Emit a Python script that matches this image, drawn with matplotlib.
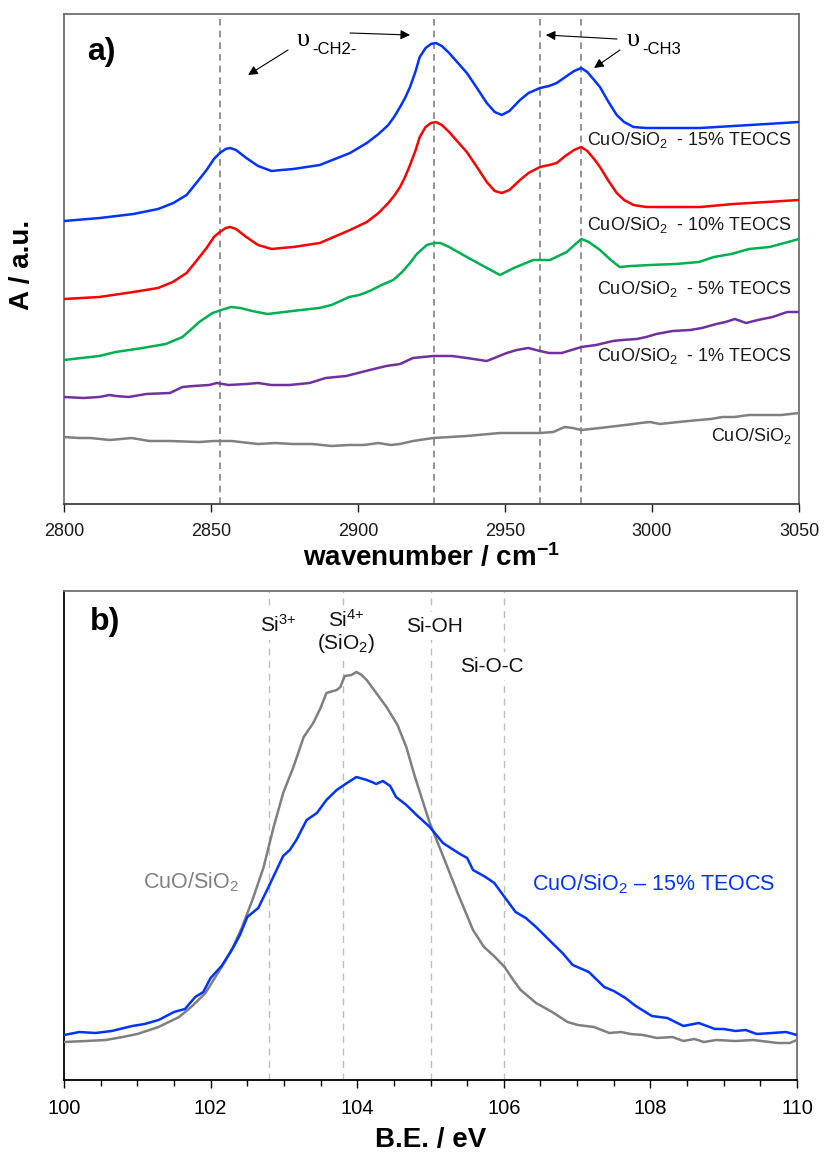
import matplotlib
matplotlib.use("Agg")
import matplotlib.pyplot as plt
from matplotlib.ticker import MultipleLocator

plt.rcParams['font.family'] = ['Liberation Sans', 'DejaVu Sans']
plt.rcParams['mathtext.fontset'] = 'custom'
plt.rcParams['mathtext.rm'] = 'Liberation Sans'
plt.rcParams['mathtext.it'] = 'Liberation Sans:italic'
plt.rcParams['mathtext.bf'] = 'Liberation Sans:bold'

# ---------------- Panel a: DRIFT spectra (A / a.u., stacked) ----------------
wn_15 = [2800, 2812.2, 2823.6, 2832, 2837.2, 2841.7, 2845, 2848.5, 2851, 2853, 2855, 2856.5,
         2858.5, 2862, 2866, 2870.6, 2874, 2878, 2887, 2897.3, 2903, 2907, 2910.3, 2912.5,
         2914.3, 2916, 2917.7, 2919.5, 2921, 2923, 2924.8, 2926.5, 2928.5, 2931, 2934, 2937,
         2940, 2943.8, 2946.5, 2948.9, 2951.5, 2955.1, 2958, 2961.9, 2965, 2967.6, 2970.5,
         2973.5, 2975.9, 2978, 2980.3, 2982.3, 2985, 2988, 2990.5, 2993.7, 2998, 3005, 3016.4,
         3027.7, 3039, 3050]
a_15 = [283, 286, 290, 295, 301, 309, 321, 334, 345, 351, 355, 356,
        354, 346, 338, 333, 334, 335, 339, 351, 361, 370, 379, 388,
        397, 406, 417, 432, 447, 456, 460, 461, 458, 451, 441, 431,
        418, 401, 392, 389, 393, 404, 411, 416, 418, 421, 427,
        433, 436, 432, 424, 417, 403, 389, 382, 377, 376, 376, 376,
        378, 380, 382]

wn_10 = [2800, 2812, 2823.6, 2832, 2837, 2841.7, 2845, 2848.5, 2851, 2853, 2855, 2856.5,
         2858.5, 2862, 2866, 2870.6, 2874, 2878, 2887, 2897.3, 2903, 2907, 2910.3, 2912.5,
         2914.3, 2916, 2917.7, 2919.5, 2921, 2923, 2924.8, 2926.5, 2928.5, 2931, 2934, 2937,
         2940, 2943.8, 2946.5, 2948.9, 2951.5, 2955.1, 2958, 2961.9, 2965, 2967.6, 2970.5,
         2973.5, 2975.9, 2978, 2980.3, 2982.3, 2985, 2988, 2990.5, 2993.7, 2998, 3005, 3016.4,
         3027.7, 3039, 3050]
a_10 = [205, 207, 212, 216, 222, 231, 243, 256, 267, 272, 276, 277,
        275, 267, 259, 255, 256, 257, 261, 274, 282, 291, 301, 309,
        317, 327, 339, 353, 367, 377, 381, 382, 379, 372, 362, 352,
        339, 322, 313, 311, 314, 324, 331, 337, 339, 341, 348,
        354, 357, 353, 345, 337, 324, 311, 304, 299, 297, 297, 297,
        300, 302, 304]

wn_5 = [2800, 2812, 2817.6, 2826.7, 2834.6, 2840.3, 2843, 2846, 2850.5, 2853.5, 2856.8, 2860,
        2864, 2869.2, 2877.7, 2886.8, 2891, 2897, 2900.4, 2904, 2908, 2912, 2915, 2917.7,
        2920, 2923.4, 2926, 2928, 2931, 2937, 2942, 2948.3, 2953, 2959.6, 2965.3, 2971, 2974,
        2976, 2978.5, 2982.3, 2986, 2989, 2993, 2999.3, 3008, 3016, 3021, 3027, 3033, 3040, 3050]
a_5 = [144, 148, 152, 156, 160, 167, 174, 182, 191, 194, 197, 196,
       193, 190, 193, 196, 199, 207, 209, 213, 219, 224, 232, 241,
       250, 259, 261, 261, 257, 247, 239, 229, 236, 244, 244, 252, 260,
       265, 262, 254, 244, 237, 238, 239, 240, 242, 247, 250, 255, 257, 265]

wn_1 = [2800, 2806.6, 2812, 2815.5, 2817.6, 2822, 2828, 2836, 2840.3, 2844, 2849.4, 2852, 2856,
        2862, 2866, 2870.5, 2876.7, 2883.5, 2889, 2896, 2900, 2904, 2909.6, 2914.3, 2918.7, 2925.6,
        2932, 2937, 2943.8, 2950.6, 2954, 2957.9, 2961.9, 2965, 2969.3, 2976, 2981, 2986.7, 2990,
        2994.8, 2998, 3001.5, 3007, 3013, 3017, 3021.9, 3025, 3028.2, 3032, 3036, 3041, 3046, 3050]
a_1 = [107, 106, 107, 109, 108, 107, 110, 111, 117, 118, 119, 121, 119,
       120, 121, 119, 119, 121, 126, 128, 131, 134, 138, 140, 146, 148,
       148, 146, 143, 151, 154, 156, 153, 151, 151, 157, 159, 163, 164,
       165, 167, 170, 173, 174, 176, 180, 182, 185, 181, 184, 187, 192, 192]

wn_0 = [2800, 2805, 2809, 2815.6, 2823, 2829, 2836, 2846, 2851, 2857, 2866, 2872, 2877.7, 2884.5,
        2891, 2897, 2902, 2907, 2911, 2914.3, 2918.7, 2925.6, 2937, 2948.3, 2955, 2961.9, 2966.4,
        2970.3, 2973, 2976, 2982.3, 2988, 2993.7, 2996, 2999.3, 3002.7, 3009, 3016, 3020, 3024,
        3028, 3033, 3038, 3044, 3050]
a_0 = [67, 66, 66, 64, 66, 63, 63, 62, 63, 63, 60, 61, 60, 60,
       58, 59, 59, 61, 59, 60, 63, 66, 68, 71, 71, 71, 72,
       77, 76, 74, 76, 78, 80, 81, 82, 80, 82, 84, 85, 87,
       87, 89, 89, 89, 91]

series_a = [
    (wn_15, a_15, '#0033ff', 'CuO/SiO$_2$  - 15% TEOCS', 364),
    (wn_10, a_10, '#ff0000', 'CuO/SiO$_2$  - 10% TEOCS', 279),
    (wn_5, a_5, '#00b050', 'CuO/SiO$_2$  - 5% TEOCS', 215),
    (wn_1, a_1, '#7030a0', 'CuO/SiO$_2$  - 1% TEOCS', 148),
    (wn_0, a_0, '#808080', 'CuO/SiO$_2$', 68),
]
vlines_a = [2853, 2926, 2962, 2976]
xticks_a = [2800, 2850, 2900, 2950, 3000, 3050]

# ---------------- Panel b: XPS Si 2p ----------------
be_grey = [100.0, 100.3, 100.57, 100.8, 101.0, 101.29, 101.57, 101.75, 101.93, 102.15, 102.3,
           102.43, 102.58, 102.72, 102.86, 102.99, 103.13, 103.27, 103.40, 103.5, 103.58, 103.72,
           103.77, 103.83, 103.92, 103.99, 104.06, 104.13, 104.26, 104.40, 104.55, 104.67, 104.78,
           104.88, 104.99, 105.16, 105.37, 105.58, 105.73, 105.88, 106.01, 106.12, 106.23, 106.44,
           106.66, 106.87, 107.01, 107.23, 107.44, 107.6, 107.73, 107.9, 108.09, 108.3, 108.45,
           108.6, 108.73, 108.9, 109.16, 109.4, 109.74, 109.9, 110.0]
i_grey = [38, 39, 40, 43, 46, 53, 63, 74, 87, 113, 132,
          153, 182, 212, 253, 287, 313, 343, 357, 372, 387, 390,
          393, 404, 405, 408, 405, 400, 387, 373, 355, 333, 305,
          282, 257, 226, 187, 150, 133, 123, 113, 101, 90, 77,
          68, 58, 55, 53, 47, 48, 46, 45, 42, 43, 39,
          41, 38, 40, 39, 40, 37, 37, 40]

be_blue = [100.0, 100.21, 100.43, 100.65, 100.93, 101.1, 101.29, 101.5, 101.65, 101.79, 101.9,
           102.0, 102.15, 102.29, 102.4, 102.5, 102.65, 102.79, 102.99, 103.08, 103.17, 103.31,
           103.45, 103.58, 103.72, 103.86, 103.99, 104.13, 104.2, 104.26, 104.35, 104.45, 104.53,
           104.67, 104.81, 104.99, 105.17, 105.38, 105.5, 105.58, 105.75, 105.87, 106.01, 106.16,
           106.3, 106.44, 106.66, 106.8, 106.94, 107.16, 107.37, 107.5, 107.66, 107.8, 108.02,
           108.23, 108.45, 108.66, 108.88, 109.0, 109.16, 109.3, 109.45, 109.66, 109.85, 110.0]
i_blue = [45, 48, 47, 49, 54, 56, 60, 68, 71, 83, 88,
          102, 114, 130, 145, 163, 172, 193, 224, 230, 240, 260,
          267, 280, 290, 297, 303, 300, 298, 296, 299, 294, 283,
          275, 265, 253, 237, 227, 222, 210, 203, 197, 183, 168,
          162, 153, 137, 127, 115, 108, 93, 89, 82, 74, 64,
          62, 54, 57, 51, 51, 49, 50, 46, 47, 48, 45]

vlines_b = [102.8, 103.8, 105.0, 106.0]
peak_labels_b = [
    ('Si$^{3{+}}$', 102.93, 455),
    ('Si$^{4{+}}$\n(SiO$_2$)', 103.85, 448),
    ('Si-OH', 105.06, 454),
    ('Si-O-C', 105.84, 414),
]

fig = plt.figure(figsize=(8.25, 11.52), dpi=100)
W, H = 825, 1152

# ---- panel a ----
axa = fig.add_axes([64 / W, 1 - 504 / H, (799 - 64) / W, (504 - 14) / H])
for x in vlines_a:
    axa.axvline(x, color='#808080', lw=1.2, ls=(0, (4, 3)), zorder=1)
for wn, a, c, lab, ly in series_a:
    axa.plot(wn, a, color=c, lw=1.8, zorder=3)
    axa.text(3047.6, ly, lab, color='#1a1a1a', fontsize=13, ha='right', va='center', zorder=4)
axa.set_xlim(2800, 3050)
axa.set_ylim(0, 490)
axa.set_xticks(xticks_a)
axa.set_yticks([])
axa.tick_params(axis='x', direction='out', length=6, width=1, labelsize=13, pad=8, colors='#1a1a1a')
for s in ['top', 'right', 'left']:
    axa.spines[s].set_color('#707070')
axa.spines['bottom'].set_color('#404040')
for s in axa.spines.values():
    s.set_linewidth(1.3)
axa.set_xlabel('wavenumber / cm$^{\\mathbf{-1}}$', fontsize=20, fontweight='bold', labelpad=2)
fig.text(22 / W, 1 - 265 / H, 'A / a.u.', rotation=90, fontsize=20, fontweight='bold',
         ha='center', va='center')
axa.text(2808, 452, 'a)', fontsize=23, fontweight='bold', ha='left', va='center')

# annotations (upsilon + subscript)
for xv, sub in [(2879.3, '-CH2-'), (2991.5, '-CH3')]:
    axa.text(xv, 464, 'υ', fontsize=19, family=['Liberation Serif', 'DejaVu Serif'],
             ha='left', va='center')
    axa.annotate(sub, xy=(xv, 464), xytext=(11, -7), textcoords='offset points',
                 fontsize=12, ha='left', va='center')
arrows = [((2876.2, 454), (2862.6, 429)), ((2897.3, 471), (2917.7, 469)),
          ((2988.1, 465), (2963.9, 469)), ((2989.1, 454), (2980.3, 436))]
for tail, head in arrows:
    axa.annotate('', xy=head, xytext=tail,
                 arrowprops=dict(arrowstyle='-|>', color='black', lw=0.8, mutation_scale=14,
                                 shrinkA=0, shrinkB=0))

# ---- panel b ----
axb = fig.add_axes([64 / W, 1 - 1080 / H, (797 - 64) / W, (1080 - 591) / H])
for x in vlines_b:
    axb.axvline(x, color='#bdbdbd', lw=1.0, ls=(0, (5, 4)), zorder=1)
axb.plot(be_grey, i_grey, color='#7f7f7f', lw=1.8, zorder=3)
axb.plot(be_blue, i_blue, color='#0033ff', lw=1.8, zorder=3)
for lab, x, y in peak_labels_b:
    axb.text(x, y, lab, fontsize=15, ha='center', va='center', color='#111111', linespacing=1.1,
             bbox=dict(facecolor='white', edgecolor='none', pad=3), zorder=2)
axb.text(101.73, 198, 'CuO/SiO$_2$', fontsize=15.5, color='#808080', ha='center', va='center')
axb.text(108.05, 196, 'CuO/SiO$_2$ – 15% TEOCS', fontsize=15.5, color='#0033ff', ha='center', va='center')
axb.text(100.35, 458, 'b)', fontsize=23, fontweight='bold', ha='left', va='center')
axb.set_xlim(100, 110)
axb.set_ylim(0, 489)
axb.xaxis.set_major_locator(MultipleLocator(2))
axb.xaxis.set_minor_locator(MultipleLocator(0.5))
axb.set_yticks([])
axb.tick_params(axis='x', which='major', direction='out', length=6, width=1, labelsize=14.5, pad=8)
axb.tick_params(axis='x', which='minor', direction='out', length=4, width=1)
for s in ['top', 'right']:
    axb.spines[s].set_color('#707070')
for s in axb.spines.values():
    s.set_linewidth(1.3)
axb.set_xlabel('B.E. / eV', fontsize=20, fontweight='bold', labelpad=6)

fig.savefig('out.png', dpi=100)
